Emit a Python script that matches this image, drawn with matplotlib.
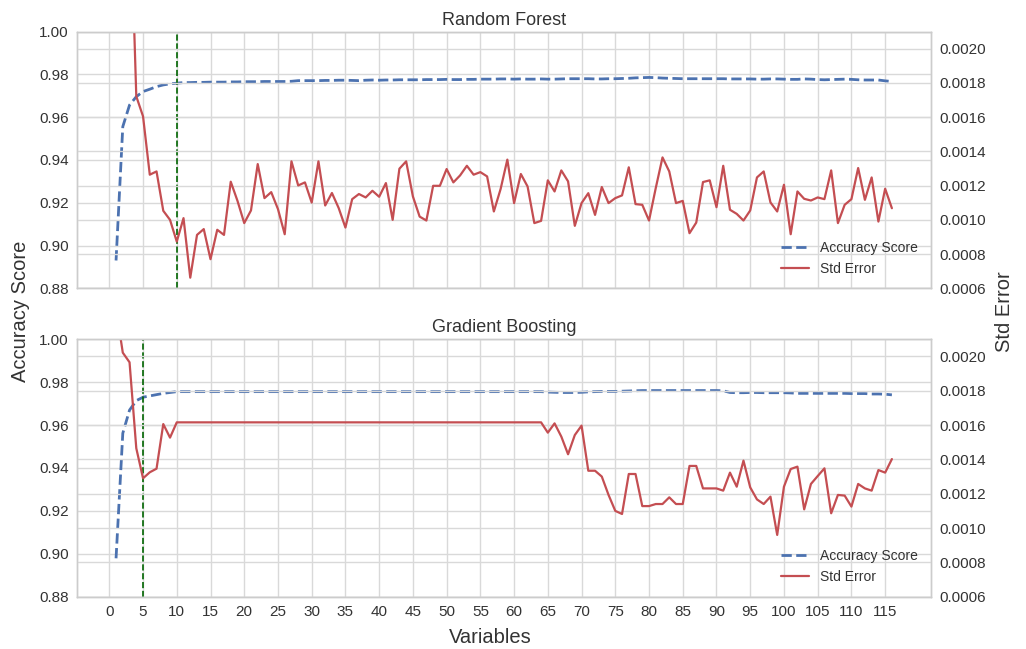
import numpy as np
import matplotlib.pyplot as plt

plt.style.use('seaborn-v0_8-whitegrid')
plt.rcParams['font.family'] = ['Liberation Sans', 'DejaVu Sans']

variables = np.arange(1, 117)

rf_accuracy = [
    0.8930, 0.9556, 0.9657, 0.9696, 0.9720, 0.9731, 0.9743, 0.9751, 0.9756, 0.9759,
    0.9762, 0.9762, 0.9763, 0.9763, 0.9764, 0.9764, 0.9764, 0.9765, 0.9765, 0.9766,
    0.9766, 0.9766, 0.9767, 0.9767, 0.9767, 0.9767, 0.9768, 0.9771, 0.9771, 0.9771,
    0.9771, 0.9772, 0.9772, 0.9773, 0.9773, 0.9772, 0.9771, 0.9773, 0.9774, 0.9773,
    0.9774, 0.9774, 0.9775, 0.9775, 0.9775, 0.9775, 0.9776, 0.9776, 0.9776, 0.9777,
    0.9776, 0.9776, 0.9777, 0.9777, 0.9778, 0.9778, 0.9778, 0.9779, 0.9779, 0.9778,
    0.9779, 0.9778, 0.9778, 0.9779, 0.9778, 0.9778, 0.9779, 0.9780, 0.9780, 0.9780,
    0.9780, 0.9779, 0.9779, 0.9780, 0.9780, 0.9781, 0.9782, 0.9784, 0.9785, 0.9786,
    0.9785, 0.9783, 0.9782, 0.9781, 0.9780, 0.9780, 0.9780, 0.9780, 0.9780, 0.9780,
    0.9780, 0.9779, 0.9779, 0.9779, 0.9779, 0.9778, 0.9778, 0.9779, 0.9779, 0.9778,
    0.9777, 0.9777, 0.9779, 0.9778, 0.9776, 0.9775, 0.9776, 0.9777, 0.9778, 0.9777,
    0.9775, 0.9774, 0.9774, 0.9774, 0.9770, 0.9767,
]

rf_std = [
    0.004500, 0.003600, 0.003000, 0.001722, 0.001605, 0.001264, 0.001283, 0.001053, 0.001000, 0.000873,
    0.001010, 0.000662, 0.000912, 0.000946, 0.000770, 0.000942, 0.000912, 0.001223, 0.001111, 0.000981,
    0.001055, 0.001326, 0.001127, 0.001162, 0.001063, 0.000916, 0.001342, 0.001201, 0.001219, 0.001101,
    0.001342, 0.001084, 0.001157, 0.001069, 0.000955, 0.001121, 0.001151, 0.001131, 0.001170, 0.001135,
    0.001215, 0.001000, 0.001299, 0.001342, 0.001137, 0.001019, 0.000996, 0.001199, 0.001199, 0.001297,
    0.001219, 0.001260, 0.001316, 0.001264, 0.001279, 0.001254, 0.001049, 0.001180, 0.001352, 0.001098,
    0.001268, 0.001195, 0.000981, 0.000994, 0.001231, 0.001166, 0.001289, 0.001225, 0.000965, 0.001098,
    0.001156, 0.001029, 0.001192, 0.001098, 0.001127, 0.001143, 0.001307, 0.001092, 0.001088, 0.000996,
    0.001186, 0.001365, 0.001283, 0.001098, 0.001111, 0.000922, 0.000984, 0.001221, 0.001231, 0.001074,
    0.001316, 0.001059, 0.001035, 0.000996, 0.001055, 0.001248, 0.001283, 0.001102, 0.001049, 0.001205,
    0.000916, 0.001166, 0.001123, 0.001113, 0.001131, 0.001121, 0.001289, 0.000981, 0.001088, 0.001121,
    0.001303, 0.001117, 0.001248, 0.000990, 0.001182, 0.001068,
]

gb_accuracy = [
    0.8979, 0.9562, 0.9670, 0.9714, 0.9730, 0.9736, 0.9742, 0.9748, 0.9752, 0.9756,
    0.9756, 0.9756, 0.9756, 0.9756, 0.9756, 0.9756, 0.9756, 0.9756, 0.9756, 0.9756,
    0.9756, 0.9756, 0.9756, 0.9756, 0.9756, 0.9756, 0.9756, 0.9756, 0.9756, 0.9756,
    0.9756, 0.9756, 0.9756, 0.9756, 0.9756, 0.9756, 0.9756, 0.9756, 0.9756, 0.9756,
    0.9756, 0.9756, 0.9756, 0.9756, 0.9756, 0.9756, 0.9756, 0.9756, 0.9756, 0.9756,
    0.9756, 0.9756, 0.9756, 0.9756, 0.9756, 0.9756, 0.9756, 0.9756, 0.9756, 0.9756,
    0.9756, 0.9756, 0.9756, 0.9756, 0.9754, 0.9753, 0.9752, 0.9752, 0.9752, 0.9753,
    0.9755, 0.9756, 0.9757, 0.9757, 0.9757, 0.9758, 0.9759, 0.9760, 0.9761, 0.9761,
    0.9761, 0.9761, 0.9761, 0.9761, 0.9761, 0.9761, 0.9761, 0.9761, 0.9761, 0.9761,
    0.9760, 0.9752, 0.9751, 0.9751, 0.9752, 0.9752, 0.9751, 0.9751, 0.9751, 0.9751,
    0.9750, 0.9748, 0.9748, 0.9748, 0.9748, 0.9748, 0.9748, 0.9748, 0.9748, 0.9747,
    0.9747, 0.9747, 0.9745, 0.9745, 0.9744, 0.9741,
]

gb_std = [
    0.002280, 0.002022, 0.001966, 0.001465, 0.001290, 0.001325, 0.001346, 0.001606, 0.001527, 0.001616,
    0.001616, 0.001616, 0.001616, 0.001616, 0.001616, 0.001616, 0.001616, 0.001616, 0.001616, 0.001616,
    0.001616, 0.001616, 0.001616, 0.001616, 0.001616, 0.001616, 0.001616, 0.001616, 0.001616, 0.001616,
    0.001616, 0.001616, 0.001616, 0.001616, 0.001616, 0.001616, 0.001616, 0.001616, 0.001616, 0.001616,
    0.001616, 0.001616, 0.001616, 0.001616, 0.001616, 0.001616, 0.001616, 0.001616, 0.001616, 0.001616,
    0.001616, 0.001616, 0.001616, 0.001616, 0.001616, 0.001616, 0.001616, 0.001616, 0.001616, 0.001616,
    0.001616, 0.001616, 0.001616, 0.001616, 0.001556, 0.001610, 0.001533, 0.001430, 0.001542, 0.001597,
    0.001334, 0.001334, 0.001300, 0.001193, 0.001100, 0.001082, 0.001315, 0.001315, 0.001128, 0.001128,
    0.001140, 0.001140, 0.001179, 0.001140, 0.001140, 0.001362, 0.001362, 0.001231, 0.001231, 0.001231,
    0.001218, 0.001323, 0.001241, 0.001393, 0.001237, 0.001167, 0.001140, 0.001183, 0.000960, 0.001241,
    0.001344, 0.001358, 0.001109, 0.001257, 0.001303, 0.001348, 0.001086, 0.001193, 0.001189, 0.001125,
    0.001257, 0.001231, 0.001218, 0.001338, 0.001323, 0.001402,
]

panels = [
    ('Random Forest', rf_accuracy, rf_std, 10),
    ('Gradient Boosting', gb_accuracy, gb_std, 5),
]

fig = plt.figure(figsize=(10.26, 6.49), dpi=100)
rects = [[0.0753, 0.5558, 0.8318, 0.3954], [0.0753, 0.0806, 0.8318, 0.3966]]
txt = '.2'

for i, (title, acc, std, best) in enumerate(panels):
    ax = fig.add_axes(rects[i])
    ax.plot(variables, acc, '--', color='#4C72B0', lw=2, label='Accuracy Score')
    ax.axvline(best, color='darkgreen', ls='--', lw=1.2)
    ax.set_ylim(0.88, 1.00)
    ax.set_yticks(np.arange(0.88, 1.001, 0.02))
    ax.yaxis.set_major_formatter(plt.FormatStrFormatter('%.2f'))
    ax.set_xticks(np.arange(0, 116, 5))
    ax.set_title(title, fontsize=13, pad=5, color=txt)
    ax.tick_params(labelsize=11, length=0, pad=6, colors=txt)
    if i == 0:
        ax.tick_params(labelbottom=False)

    ax2 = ax.twinx()
    ax2.plot(variables, std, '-', color='#C44E52', lw=1.6, label='Std Error')
    ax2.set_ylim(0.0006, 0.0021)
    ax2.set_yticks(np.arange(0.0006, 0.00201, 0.0002))
    ax2.yaxis.set_major_formatter(plt.FormatStrFormatter('%.4f'))
    ax2.tick_params(labelsize=11, length=0, pad=6, colors=txt)
    ax2.grid(True, color='.85', lw=1)
    ax.grid(True, color='.85', lw=1)
    for a in (ax, ax2):
        for s in a.spines.values():
            s.set_color('.8')
    ax.set_xlim(variables[0] - 5.75, variables[-1] + 5.75)

    h1, l1 = ax.get_legend_handles_labels()
    h2, l2 = ax2.get_legend_handles_labels()
    leg = ax2.legend(h1 + h2, l1 + l2, loc='lower right', fontsize=10, frameon=False)
    for t in leg.get_texts():
        t.set_color(txt)

fig.text(0.0195, 0.52, 'Accuracy Score', rotation=90, ha='center', va='center', fontsize=14.5, color=txt)
fig.text(0.9795, 0.52, 'Std Error', rotation=90, ha='center', va='center', fontsize=14.5, color=txt)
fig.text(0.4776, 0.017, 'Variables', ha='center', va='center', fontsize=14.5, color=txt)

fig.savefig('out.png', dpi=100)
